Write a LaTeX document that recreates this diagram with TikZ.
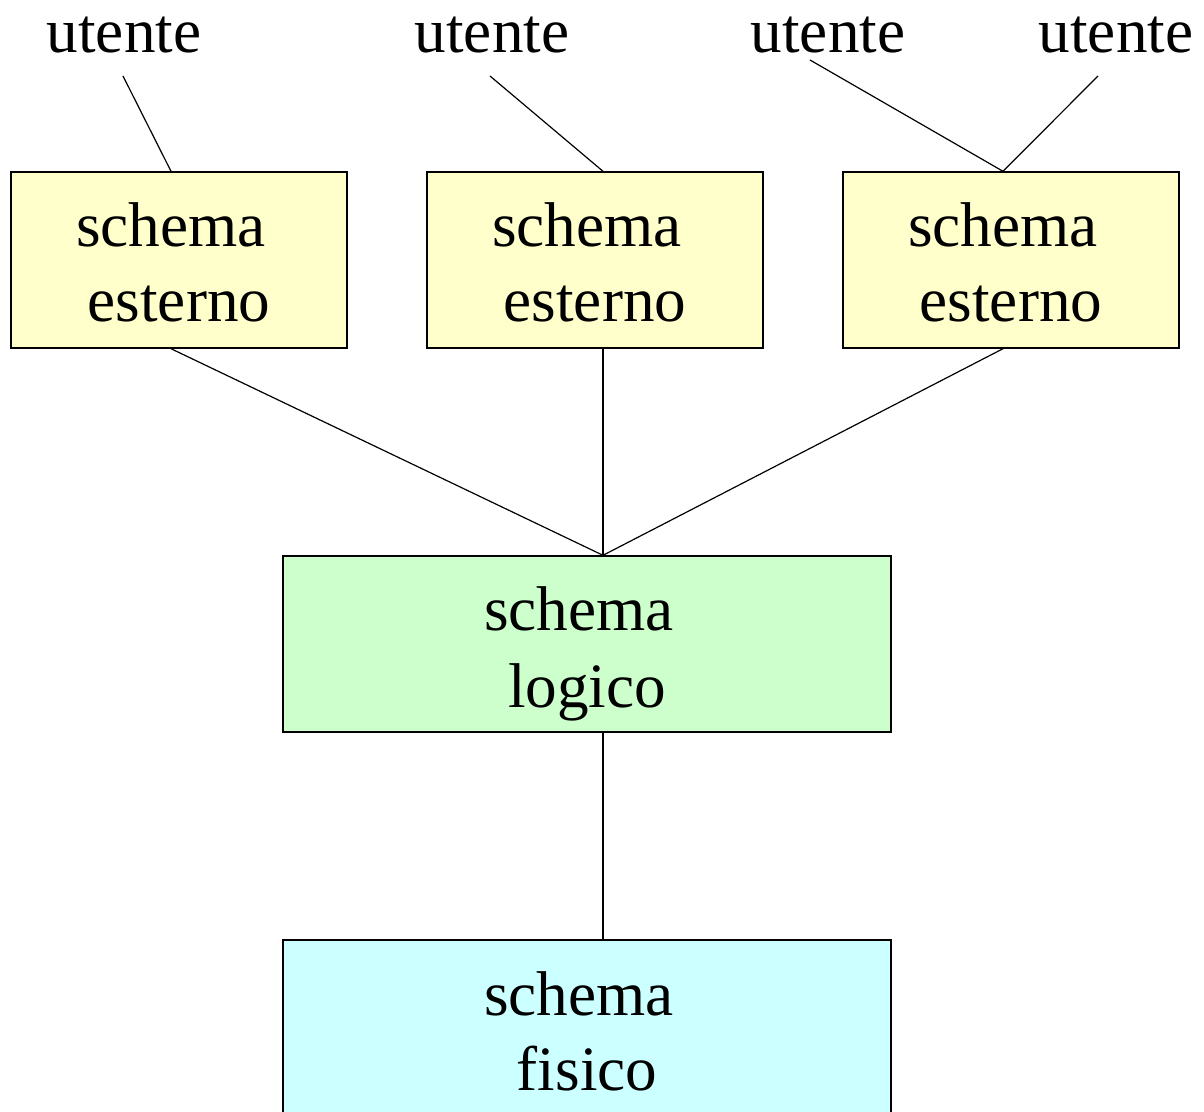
\documentclass[tikz,border=0pt]{standalone}
\usepackage{fontspec}
\setmainfont{Liberation Serif}
\definecolor{extfill}{HTML}{FFFFCC}
\definecolor{logfill}{HTML}{CCFFCC}
\definecolor{fisfill}{HTML}{CCFFFF}
\tikzset{
  box/.style={draw=black, line width=0.7pt, rectangle, minimum width=168pt, inner sep=0pt},
  extbox/.style={box, fill=extfill, minimum width=168pt, minimum height=88pt},
  bigbox/.style={box, minimum width=304pt, minimum height=88pt},
  lbl/.style={anchor=base, inner sep=0pt, font=\fontsize{31.6}{37.9}\selectfont},
  conn/.style={draw=black, line width=0.6pt},
}
\begin{document}
\begin{tikzpicture}[x=0.5pt,y=-0.5pt]
\clip (0,0) rectangle (1204,1112);
\fill[white] (0,0) rectangle (1204,1112);
% boxes
\node[extbox] (e1) at (179,260) {};
\node[extbox] (e2) at (595,260) {};
\node[extbox] (e3) at (1011,260) {};
\node[bigbox, fill=logfill] (lg) at (587,644) {};
\node[bigbox, fill=fisfill] (fs) at (587,1028) {};
% box texts
\node[lbl] (e1a) at (171,247) {schema};
\node[lbl] (e1b) at (179,322) {esterno};
\node[lbl] (e2a) at (587,247) {schema};
\node[lbl] (e2b) at (595,322) {esterno};
\node[lbl] (e3a) at (1003,247) {schema};
\node[lbl] (e3b) at (1011,322) {esterno};
\node[lbl] (lga) at (579,630) {schema};
\node[lbl] (lgb) at (587,707) {logico};
\node[lbl] (fsa) at (579,1015) {schema};
\node[lbl] (fsb) at (587,1090) {fisico};
% users
\node[lbl] (u1) at (124,53) {utente};
\node[lbl] (u2) at (492,53) {utente};
\node[lbl] (u3) at (828,53) {utente};
\node[lbl] (u4) at (1116,53) {utente};
% attachment points
\coordinate (u1p) at (123,76);
\coordinate (u2p) at (490,76);
\coordinate (u3p) at (810,60);
\coordinate (u4p) at (1098,76);
\coordinate (e1t) at ([xshift=-4pt]e1.north);
\coordinate (e2t) at ([xshift=4pt]e2.north);
\coordinate (e3t) at ([xshift=-4pt]e3.north);
\coordinate (e1s) at ([xshift=-4pt]e1.south);
\coordinate (e2s) at ([xshift=4pt]e2.south);
\coordinate (e3s) at ([xshift=-4pt]e3.south);
\coordinate (lgt) at ([xshift=8pt]lg.north);
\coordinate (lgs) at ([xshift=8pt]lg.south);
\coordinate (fst) at ([xshift=8pt]fs.north);
% connectors
\draw[conn] (u1p) -- (e1t);
\draw[conn] (u2p) -- (e2t);
\draw[conn] (u3p) -- (e3t);
\draw[conn] (u4p) -- (e3t);
\draw[conn] (e1s) -- (lgt);
\draw[conn] (e2s) -- (lgt);
\draw[conn] (e3s) -- (lgt);
\draw[conn] (lgs) -- (fst);
\end{tikzpicture}
\end{document}
